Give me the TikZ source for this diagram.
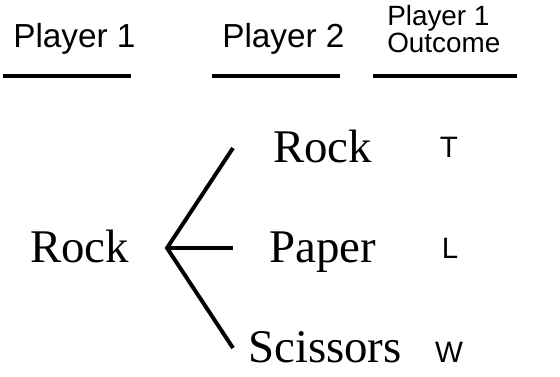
\documentclass[tikz,border=0pt]{standalone}
\usepackage{fontspec}
\setmainfont{Liberation Serif}
\setsansfont{Liberation Sans}

\begin{document}
\begin{tikzpicture}[
  x=0.025cm, y=-0.025cm,
  head/.style={font=\sffamily\fontsize{23.7}{28}\selectfont, anchor=base west, inner sep=0pt},
  subhead/.style={font=\sffamily\fontsize{19.8}{19.8}\selectfont, anchor=base west, inner sep=0pt},
  movetext/.style={font=\fontsize{33.3}{38}\selectfont, anchor=base west, inner sep=0pt},
  outcome/.style={font=\sffamily\fontsize{21}{25}\selectfont, anchor=base, inner sep=0pt},
  headrule/.style={line width=2.8pt},
  branch/.style={line width=2.8pt}
]
  \useasboundingbox (0,0) rectangle (560,376);

  % column headers
  \node[head] (p1) at (13,47) {Player 1};
  \node[head] (p2) at (222,47) {Player 2};
  \node[subhead] (outa) at (387,25) {Player 1};
  \node[subhead] (outb) at (387,52) {Outcome};

  \draw[headrule] (3,76) -- (131,76);
  \draw[headrule] (212,76) -- (340,76);
  \draw[headrule] (373,76) -- (517,76);

  % moves
  \node[movetext] (root) at (30,262) {Rock};
  \node[movetext] (rock) at (273,162) {Rock};
  \node[movetext] (paper) at (269,262) {Paper};
  \node[movetext] (scissors) at (248,362) {Scissors};

  % outcomes for player 1
  \node[outcome] (t) at (449,157) {T};
  \node[outcome] (l) at (450,258) {L};
  \node[outcome] (w) at (449,362) {W};

  % the tree
  \coordinate (fork) at (167,248);
  \coordinate (toRock) at (233,148);
  \coordinate (toPaper) at (233,248);
  \coordinate (toScissors) at (233,348);
  \draw[branch] (toRock) -- (fork) -- (toScissors);
  \draw[branch] (fork) -- (toPaper);
\end{tikzpicture}
\end{document}
